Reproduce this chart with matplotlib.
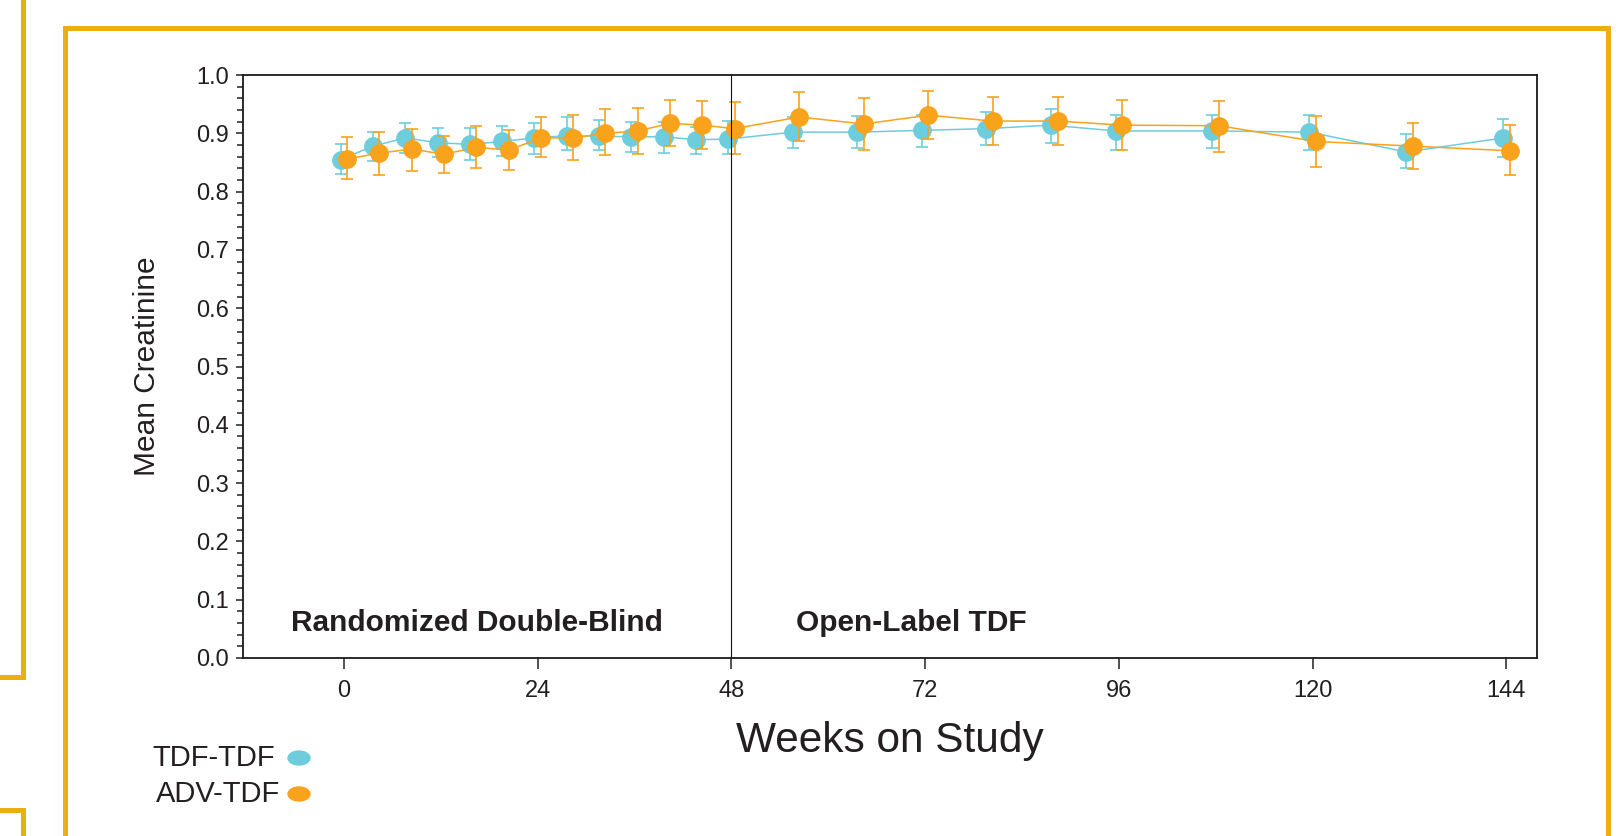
import matplotlib
matplotlib.use("Agg")
import matplotlib.pyplot as plt
from matplotlib.lines import Line2D
from matplotlib.patches import Ellipse
from matplotlib import font_manager
from matplotlib.ticker import MultipleLocator

plt.rcParams['font.family'] = ['Liberation Sans', 'DejaVu Sans']

# data
weeks = [0, 4, 8, 12, 16, 20, 24, 28, 32, 36, 40, 44, 48,
         56, 64, 72, 80, 88, 96, 108, 120, 132, 144]

tdf_mean = [0.855, 0.878, 0.892, 0.884, 0.881, 0.886, 0.892, 0.896, 0.895, 0.894, 0.894, 0.889, 0.890,
            0.902, 0.902, 0.905, 0.908, 0.914, 0.904, 0.904, 0.902, 0.868, 0.892]
tdf_lo = [0.830, 0.852, 0.867, 0.860, 0.855, 0.861, 0.865, 0.871, 0.871, 0.868, 0.866, 0.864, 0.865,
          0.875, 0.875, 0.877, 0.880, 0.884, 0.872, 0.875, 0.872, 0.841, 0.859]
tdf_hi = [0.882, 0.902, 0.918, 0.909, 0.909, 0.912, 0.918, 0.928, 0.922, 0.919, 0.919, 0.911, 0.921,
          0.928, 0.929, 0.932, 0.936, 0.941, 0.932, 0.932, 0.932, 0.898, 0.925]

adv_mean = [0.856, 0.866, 0.873, 0.864, 0.876, 0.871, 0.892, 0.892, 0.900, 0.904, 0.917, 0.914, 0.908,
            0.928, 0.916, 0.931, 0.921, 0.921, 0.914, 0.913, 0.886, 0.878, 0.870]
adv_lo = [0.821, 0.829, 0.836, 0.832, 0.841, 0.837, 0.859, 0.855, 0.862, 0.865, 0.878, 0.873, 0.864,
          0.886, 0.872, 0.891, 0.880, 0.880, 0.871, 0.868, 0.843, 0.838, 0.829]
adv_hi = [0.893, 0.902, 0.907, 0.895, 0.912, 0.905, 0.928, 0.932, 0.941, 0.943, 0.957, 0.955, 0.953,
          0.970, 0.960, 0.973, 0.962, 0.962, 0.957, 0.955, 0.929, 0.918, 0.914]

x_ticks = [0, 24, 48, 72, 96, 120, 144]
y_ticks = [0.0, 0.1, 0.2, 0.3, 0.4, 0.5, 0.6, 0.7, 0.8, 0.9, 1.0]
series_names = ['TDF-TDF', 'ADV-TDF']

# colores
blue = '#6DCDDD'
orange = '#F9A21B'
gold = '#EBB00F'
ink = '#231F20'

W, H = 1621, 836
fig = plt.figure(figsize=(W / 100, H / 100), dpi=100)


def fx(x):
    return x / W


def fy(y):
    return 1 - y / H


# marco amarillo
def frame_line(xs, ys):
    fig.add_artist(Line2D([fx(v) for v in xs], [fy(v) for v in ys], color=gold, lw=3.6,
                          solid_capstyle='projecting', solid_joinstyle='miter',
                          transform=fig.transFigure))


frame_line([64.5, 64.5, 1607.5, 1607.5], [850, 27.5, 27.5, 850])
frame_line([-5, 22.5, 22.5], [676.5, 676.5, -10])
frame_line([-5, 22.5, 22.5], [809.5, 809.5, 850])

ax = fig.add_axes([fx(243), fy(658), (1537 - 243) / W, (658 - 75) / H])

dodge = 0.4
err_kw = dict(capsize=4.5, elinewidth=1.2, capthick=1.2, lw=1.1, marker='o', ms=12.5)

x_tdf = [w - dodge for w in weeks]
ax.errorbar(x_tdf, tdf_mean,
            yerr=[[m - l for m, l in zip(tdf_mean, tdf_lo)], [h - m for m, h in zip(tdf_mean, tdf_hi)]],
            color=blue, mec=blue, zorder=3, **err_kw)

x_adv = [w + dodge for w in weeks]
ax.errorbar(x_adv, adv_mean,
            yerr=[[m - l for m, l in zip(adv_mean, adv_lo)], [h - m for m, h in zip(adv_mean, adv_hi)]],
            color=orange, mec=orange, zorder=4, **err_kw)

ax.axvline(48, color='#111111', lw=0.8, zorder=5)

ax.set_xlim(-12.5, 147.8)
ax.set_ylim(0, 1.0)
ax.set_xticks(x_ticks)
ax.set_yticks(y_ticks)
ax.set_yticklabels([f'{v:.1f}' for v in y_ticks])
ax.yaxis.set_minor_locator(MultipleLocator(0.02))

ax.tick_params(axis='x', length=8, width=1.1, pad=8, labelsize=17, colors=ink)
ax.tick_params(axis='y', which='major', length=5, width=1.1, pad=5, labelsize=17, colors=ink)
ax.tick_params(axis='y', which='minor', length=4, width=1.1, colors=ink)
for s in ax.spines.values():
    s.set_linewidth(1.3)
    s.set_color('#1a1a1a')

ax.set_xlabel('Weeks on Study', fontsize=30.5, color=ink)
ax.xaxis.label.set_verticalalignment('baseline')
ax.xaxis.set_label_coords(0.5, (658 - 752) / (658 - 75))

# etiqueta del eje y (estrecha si hay fuente Narrow)
try:
    font_manager.findfont('Liberation Sans Narrow', fallback_to_default=False)
    ax.set_ylabel('Mean Creatinine', fontsize=25, color=ink, family='Liberation Sans Narrow')
except Exception:
    ax.set_ylabel('Mean Creatinine', fontsize=21.5, color=ink)
ax.yaxis.label.set_verticalalignment('center')
ax.yaxis.set_label_coords((147 - 243) / (1537 - 243), 0.5)

ax.text(-6.6, 0.046, 'Randomized Double-Blind', fontsize=21.5, fontweight='bold', color=ink,
        va='baseline', ha='left')
ax.text(56.0, 0.046, 'Open-Label TDF', fontsize=21.5, fontweight='bold', color=ink,
        va='baseline', ha='left')

# leyenda manual
for name, col, ypix, xr in [(series_names[0], blue, 758, 275), (series_names[1], orange, 794, 280)]:
    fig.text(fx(xr), fy(ypix), name, fontsize=21, color=ink, ha='right', va='center')
    fig.add_artist(Ellipse((fx(299), fy(ypix)), 22 / W, 14 / H, color=col,
                           transform=fig.transFigure))

fig.savefig('out.png', dpi=100)
